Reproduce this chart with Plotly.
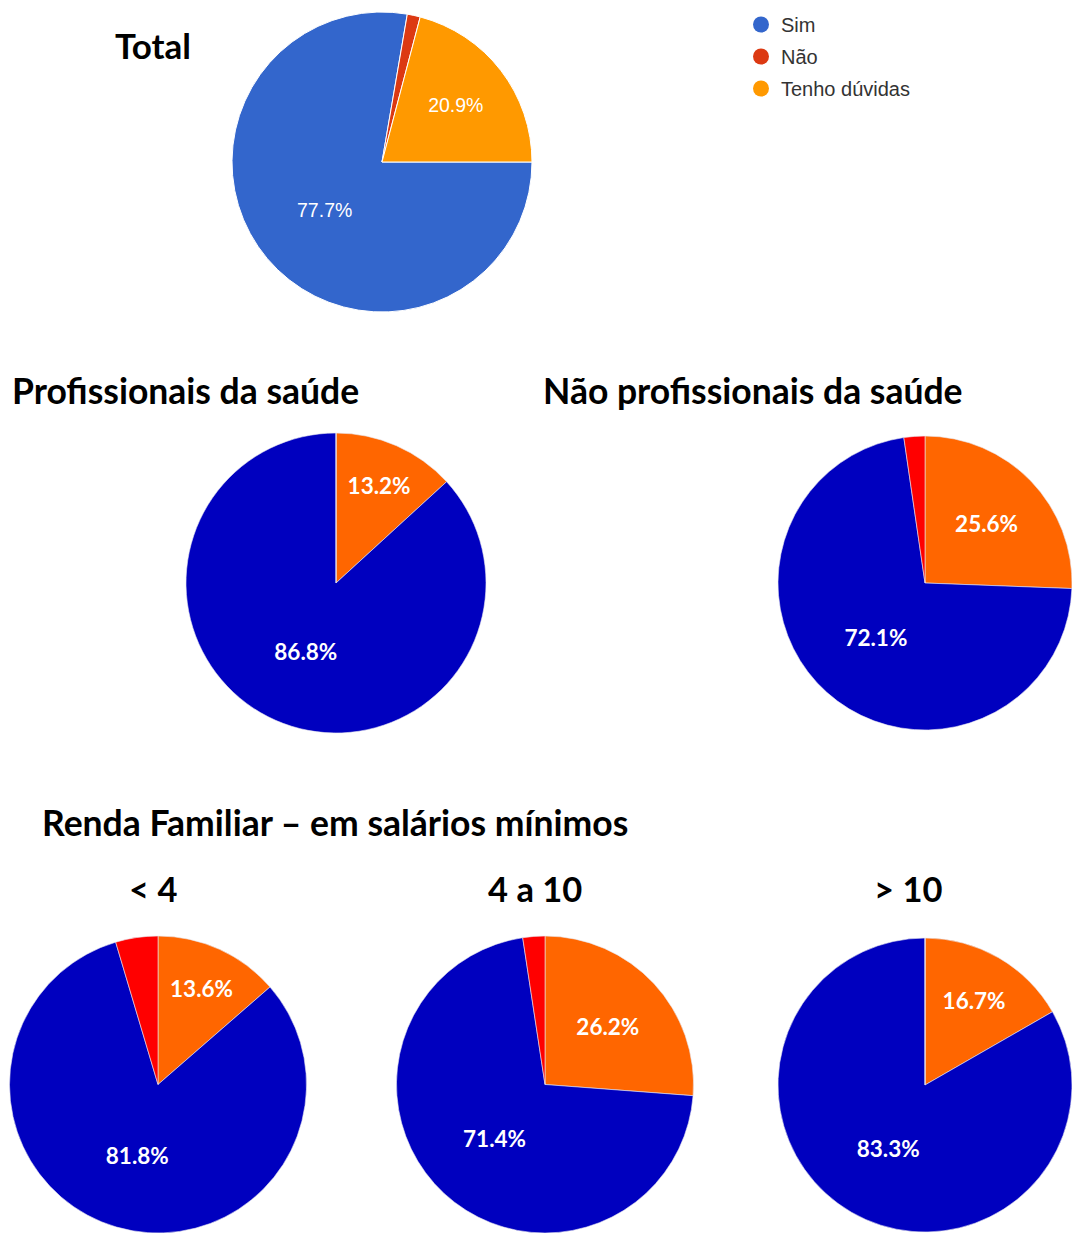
import plotly.graph_objects as go

W, H = 1072, 1233

labels = ["Sim", "Não", "Tenho dúvidas"]

total_vals = [77.7, 1.4, 20.9]
prof_vals = [86.8, 0.0, 13.2]
naoprof_vals = [72.1, 2.3, 25.6]
renda_lt4_vals = [81.8, 4.6, 13.6]
renda_4a10_vals = [71.4, 2.4, 26.2]
renda_gt10_vals = [83.3, 0.0, 16.7]

google_colors = ["#3366CC", "#DC3912", "#FF9900"]
office_colors = ["#0000BF", "#FF0000", "#FF6600"]


def dom(cx, cy, r):
    x0 = max(0, (cx - r) / W)
    x1 = min(1, (cx + r) / W)
    y0 = max(0, 1 - (cy + r) / H)
    y1 = min(1, 1 - (cy - r) / H)
    return dict(x=[x0, x1], y=[y0, y1])


def txt(vals, minv=5):
    return [f"{v:.1f}%" if v >= minv else "" for v in vals]


fig = go.Figure()

# Total pie (Google style): starts at 3 o'clock with Sim, clockwise
fig.add_trace(go.Pie(
    labels=labels, values=total_vals, text=txt(total_vals),
    textinfo="text", sort=False, direction="clockwise", rotation=90,
    marker=dict(colors=google_colors, line=dict(color="white", width=1)),
    textfont=dict(family="Liberation Sans, Arial", size=19.5, color="white"),
    insidetextorientation="horizontal", textposition="inside",
    domain=dom(382, 162, 150), showlegend=False, hoverinfo="label+percent",
))

order = [2, 0, 1]  # Tenho dúvidas, Sim, Não clockwise from 12 o'clock


def sub_pie(vals, cx, cy, r):
    v = [vals[i] for i in order]
    return go.Pie(
        labels=[labels[i] for i in order], values=v, text=txt(v),
        textinfo="text", sort=False, direction="clockwise", rotation=0,
        marker=dict(colors=[office_colors[i] for i in order],
                    line=dict(color="#E8E8F0", width=0.6)),
        textfont=dict(family="Lato", size=22.5, color="white", weight="bold"),
        insidetextorientation="horizontal", textposition="inside",
        domain=dom(cx, cy, r), showlegend=False, hoverinfo="label+percent",
    )


fig.add_trace(sub_pie(prof_vals, 336, 583, 150))
fig.add_trace(sub_pie(naoprof_vals, 925, 583, 147))
fig.add_trace(sub_pie(renda_lt4_vals, 158, 1085, 149))
fig.add_trace(sub_pie(renda_4a10_vals, 545, 1085, 149))
fig.add_trace(sub_pie(renda_gt10_vals, 925, 1085, 147))

# legend entries with circle symbols
for lab, col in zip(labels, google_colors):
    fig.add_trace(go.Scatter(
        x=[None], y=[None], mode="markers", name=lab, legendgroup=lab,
        marker=dict(symbol="circle", size=20, color=col),
        showlegend=True, hoverinfo="skip",
    ))

titles = [
    ("Total", 153, 45, 35),
    ("Profissionais da saúde", 185, 390, 35.5),
    ("Não profissionais da saúde", 753, 390, 35.5),
    ("Renda Familiar – em salários mínimos", 335, 822, 35.5),
    ("< 4", 153, 888, 34.5),
    ("4 a 10", 535, 888, 34.5),
    ("> 10", 908, 888, 34.5),
]
for t, x, y, s in titles:
    fig.add_annotation(
        text=f"<b>{t}</b>", x=x / W, y=1 - y / H, xref="paper", yref="paper",
        showarrow=False, xanchor="center", yanchor="middle",
        font=dict(family="Lato", size=s, color="black"),
    )

fig.update_layout(
    width=W, height=H,
    margin=dict(l=0, r=0, t=0, b=0),
    paper_bgcolor="white", plot_bgcolor="white",
    xaxis=dict(visible=False, domain=[0.99, 1]), yaxis=dict(visible=False, domain=[0.99, 1]),
    legend=dict(
        x=741 / W, y=1 - 5 / H, xanchor="left", yanchor="top",
        font=dict(family="Liberation Sans, Arial", size=20, color="#333333"),
        itemsizing="trace", bgcolor="rgba(0,0,0,0)", tracegroupgap=3,
    ),
    showlegend=True,
)

fig.write_html("out.html", config={"displayModeBar": False},
               post_script="document.body.style.margin='0';")
